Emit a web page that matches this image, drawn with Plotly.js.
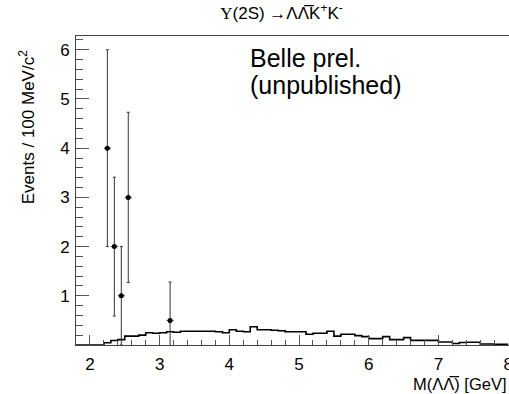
<!DOCTYPE html>
<html>
<head>
<meta charset="utf-8">
<script src="https://cdn.plot.ly/plotly-3.0.1.min.js"></script>
<style>
html,body{margin:0;padding:0;background:#fff;}
#chart{width:509px;height:394px;}
</style>
</head>
<body>
<div id="chart"></div>
<script>
// Data points (Belle preliminary)
const dataMass = [2.25, 2.35, 2.45, 2.55, 3.15];
const dataEvents = [4, 2, 1, 3, 0.5];
const dataErr = [2, 1.41, 1, 1.73, 0.78];
const dataHalfBin = [0.05, 0.05, 0.05, 0.05, 0.05];

// MC shape histogram: bin lower edges (0.1 GeV bins) and contents
const mcEdges = [1.8,1.9,2.0,2.1,2.2,2.3,2.4,2.5,2.6,2.7,2.8,2.9,3.0,3.1,3.2,3.3,3.4,3.5,3.6,3.7,
  3.8,3.9,4.0,4.1,4.2,4.3,4.4,4.5,4.6,4.7,4.8,4.9,5.0,5.1,5.2,5.3,5.4,5.5,5.6,5.7,
  5.8,5.9,6.0,6.1,6.2,6.3,6.4,6.5,6.6,6.7,6.8,6.9,7.0,7.1,7.2,7.3,7.4,7.5,7.6,7.7,
  7.8,7.9,8.0];
const mcValues = [0,0,0,0,0.045,0.09,0.11,0.18,0.18,0.2,0.25,0.24,0.25,0.27,0.26,0.28,0.28,0.28,0.28,0.28,
  0.27,0.25,0.31,0.28,0.27,0.37,0.31,0.31,0.30,0.29,0.27,0.27,0.27,0.22,0.24,0.24,0.28,0.18,0.22,0.22,
  0.19,0.17,0.13,0.13,0.17,0.11,0.11,0.15,0.095,0.095,0.095,0.095,0.06,0.06,0.03,0.05,0.055,0.055,0.02,0.02,
  0.015,0.015];

const xTicks = [2,3,4,5,6,7,8];
const yTicks = [1,2,3,4,5,6];

const mcY = mcValues.concat([mcValues[mcValues.length-1]]);

const tickFont = {family: 'Liberation Sans Narrow, Liberation Sans, Arial, sans-serif', size: 17, color: '#000'};
const textFont = 'Liberation Sans, Arial, Helvetica, sans-serif';

const traces = [
  {
    type: 'scatter', mode: 'lines',
    x: mcEdges, y: mcY,
    line: {shape: 'hv', color: '#000', width: 1.6},
    hoverinfo: 'skip', showlegend: false
  },
  {
    type: 'scatter', mode: 'markers',
    x: dataMass, y: dataEvents,
    marker: {color: '#000', size: 5, symbol: 'circle'},
    error_y: {type: 'data', array: dataErr, visible: true, color: '#333', thickness: 1, width: 1.5},
    error_x: {type: 'data', array: dataHalfBin, visible: true, color: '#333', thickness: 1, width: 0},
    showlegend: false
  }
];

const layout = {
  width: 509, height: 394,
  margin: {l: 76, r: 0, t: 36, b: 48.5, pad: 0},
  paper_bgcolor: '#fff', plot_bgcolor: '#fff',
  showlegend: false,
  title: {
    text: '<span style="font-family:Liberation Serif">Υ</span>(2S) →ΛΛ\u0305K<sup>+</sup>K<sup>-</sup>',
    font: {family: textFont, size: 17, color: '#000'},
    xref: 'container', yref: 'container',
    x: 0.553, y: 0.967, xanchor: 'center', yanchor: 'middle'
  },
  xaxis: {
    range: [1.8, 8.012],
    tickvals: xTicks, ticktext: xTicks.map(String),
    ticks: 'inside', ticklen: 10, tickwidth: 1, tickcolor: '#555',
    minor: {dtick: 0.2, tick0: 0, ticks: 'inside', ticklen: 5, tickwidth: 1, tickcolor: '#555'},
    showline: true, linecolor: '#444', linewidth: 1, mirror: true,
    showgrid: false, zeroline: false,
    tickfont: tickFont, ticklabelstandoff: 4, ticklabeloverflow: 'allow'
  },
  yaxis: {
    range: [0, 6.28],
    tickvals: yTicks, ticktext: yTicks.map(String),
    ticks: 'inside', ticklen: 13, tickwidth: 1, tickcolor: '#555',
    minor: {dtick: 0.2, tick0: 0, ticks: 'inside', ticklen: 6.5, tickwidth: 1, tickcolor: '#555'},
    showline: true, linecolor: '#444', linewidth: 1,
    showgrid: false, zeroline: false,
    tickfont: tickFont, ticklabelstandoff: 2
  },
  annotations: [
    {text: 'Belle prel.', xref: 'paper', yref: 'paper', x: 0.397, y: 0.93,
     xanchor: 'left', yanchor: 'middle', showarrow: false,
     font: {family: textFont, size: 25, color: '#000'}},
    {text: '(unpublished)', xref: 'paper', yref: 'paper', x: 0.397, y: 0.84,
     xanchor: 'left', yanchor: 'middle', showarrow: false,
     font: {family: textFont, size: 25, color: '#000'}},
    {text: 'Events / 100 MeV/c<sup>2</sup>', xref: 'paper', yref: 'paper', x: -0.113, y: 0.705,
     xanchor: 'center', yanchor: 'middle', textangle: -90, showarrow: false,
     font: {family: textFont, size: 17, color: '#000'}},
    {text: 'M(ΛΛ\u0305) [GeV]', xref: 'paper', yref: 'paper', x: 1.0, y: -0.127,
     xanchor: 'right', yanchor: 'middle', showarrow: false,
     font: {family: textFont, size: 16.5, color: '#000'}}
  ]
};

Plotly.newPlot('chart', traces, layout, {displayModeBar: false, staticPlot: true});
</script>
</body>
</html>
